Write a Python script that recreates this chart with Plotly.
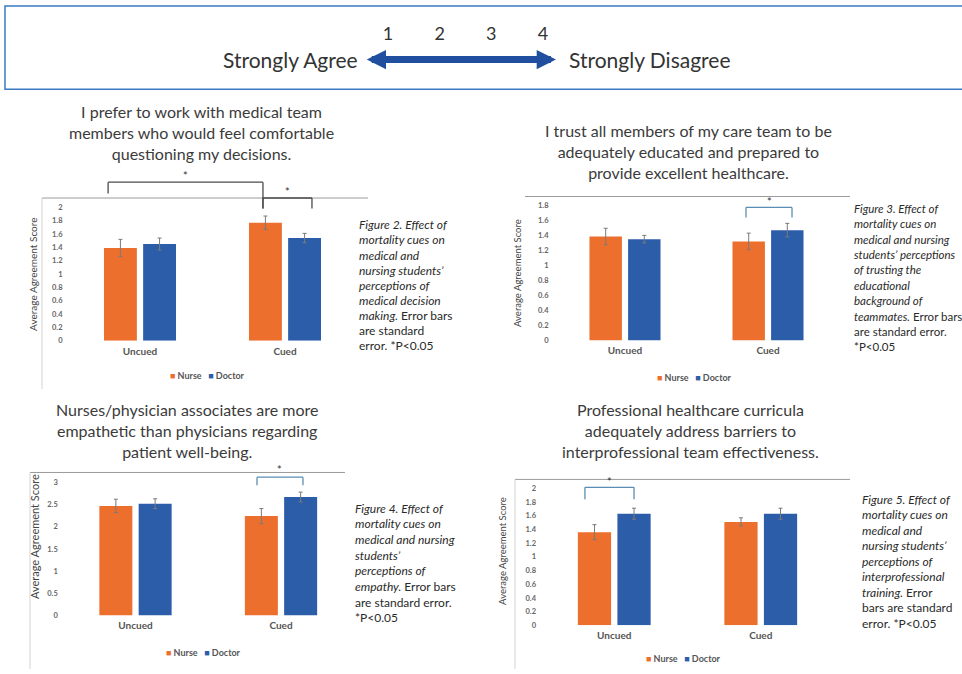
import plotly.graph_objects as go

W, H = 962, 674

# ---------------------------------------------------------------- data
groups = ["Uncued", "Cued"]
series = ["Nurse", "Doctor"]

# Figure 2 - comfortable being questioned
fig2_nurse = [1.39, 1.77]
fig2_doctor = [1.45, 1.54]
fig2_nurse_se = [0.13, 0.10]
fig2_doctor_se = [0.09, 0.07]
fig2_ticks = [0, 0.2, 0.4, 0.6, 0.8, 1, 1.2, 1.4, 1.6, 1.8, 2]

# Figure 3 - trust in teammates' education
fig3_nurse = [1.385, 1.32]
fig3_doctor = [1.35, 1.47]
fig3_nurse_se = [0.11, 0.11]
fig3_doctor_se = [0.05, 0.09]
fig3_ticks = [0, 0.2, 0.4, 0.6, 0.8, 1, 1.2, 1.4, 1.6, 1.8]

# Figure 4 - empathy
fig4_nurse = [2.47, 2.24]
fig4_doctor = [2.52, 2.67]
fig4_nurse_se = [0.15, 0.17]
fig4_doctor_se = [0.11, 0.11]
fig4_ticks = [0, 0.5, 1, 1.5, 2, 2.5, 3]

# Figure 5 - interprofessional training
fig5_nurse = [1.36, 1.51]
fig5_doctor = [1.63, 1.63]
fig5_nurse_se = [0.11, 0.06]
fig5_doctor_se = [0.08, 0.08]
fig5_ticks = [0, 0.2, 0.4, 0.6, 0.8, 1, 1.2, 1.4, 1.6, 1.8, 2]

scale_points = [1, 2, 3, 4]
scale_labels = ["1", "2", "3", "4"]

ORANGE = "#EC6F2D"
BLUE = "#2C5DA9"
FONT = "Lato"


def fx(px):
    return px / W


def fy(py):
    return 1 - py / H


def tick_text(v):
    return ("%g" % v)


panels = [
    dict(nurse=fig2_nurse, doctor=fig2_doctor, nse=fig2_nurse_se, dse=fig2_doctor_se,
         ticks=fig2_ticks, x_px=(67.5, 357.5), zero_py=343.3, ppu=67.2, top_py=168,
         topline=(42, 368, 199.5),
         brackets=[(-0.22, 0.848, 183.5, 195, 210, "#4a4a4a", 177),
                   (0.848, 1.186, 199.5, 210, 210, "#4a4a4a", 193)],
         border=(42, 199.5, 392),
         title="I prefer to work with medical team<br>members who would feel comfortable<br>questioning my decisions.",
         title_xy=(201, 133.5),
         ytitle_xy=(33, 277), ytitle_size=10,
         legend_xy=(207, 378),
         caption_x=357, caption_y=226.5, caption_dy=15.25, caption_size=12,
         caption=["<i>Figure 2. Effect of</i>", "<i>mortality cues on</i>", "<i>medical and</i>",
                  "<i>nursing students’</i>", "<i>perceptions of</i>", "<i>medical decision</i>",
                  "<i>making.</i> Error bars", "are standard", "error. *P&lt;0.05"]),
    dict(nurse=fig3_nurse, doctor=fig3_doctor, nse=fig3_nurse_se, dse=fig3_doctor_se,
         ticks=fig3_ticks, x_px=(553.5, 839.5), zero_py=343, ppu=75.6, top_py=190,
         topline=(525, 850, 198),
         brackets=[(0.846, 1.168, 209, 219, 219, "#5b8db3", 203)],
         border=None,
         title="I trust all members of my care team to be<br>adequately educated and prepared to<br>provide excellent healthcare.",
         title_xy=(688, 153),
         ytitle_xy=(518, 275), ytitle_size=9.5,
         legend_xy=(694, 380),
         caption_x=852, caption_y=210, caption_dy=15.5, caption_size=11.5,
         caption=["<i>Figure 3. Effect of</i>", "<i>mortality cues on</i>", "<i>medical and nursing</i>",
                  "<i>students’ perceptions</i>", "<i>of trusting the</i>", "<i>educational</i>",
                  "<i>background of</i>", "<i>teammates.</i> Error bars", "are standard error.",
                  "*P&lt;0.05"]),
    dict(nurse=fig4_nurse, doctor=fig4_doctor, nse=fig4_nurse_se, dse=fig4_doctor_se,
         ticks=fig4_ticks, x_px=(62.75, 353.75), zero_py=620, ppu=44.67, top_py=464,
         topline=(30, 345, 476),
         brackets=[(0.835, 1.151, 480.7, 489, 489, "#5b8db3", 473)],
         border=(30, 476, 674),
         title="Nurses/physician associates are more<br>empathetic than physicians regarding<br>patient well-being.",
         title_xy=(187, 434),
         ytitle_xy=(35, 541), ytitle_size=11,
         legend_xy=(203, 657),
         caption_x=353, caption_y=512, caption_dy=15.8, caption_size=12,
         caption=["<i>Figure 4. Effect of</i>", "<i>mortality cues on</i>", "<i>medical and nursing</i>",
                  "<i>students’</i>", "<i>perceptions of</i>", "<i>empathy.</i> Error bars",
                  "are standard error.", "*P&lt;0.05"]),
    dict(nurse=fig5_nurse, doctor=fig5_doctor, nse=fig5_nurse_se, dse=fig5_doctor_se,
         ticks=fig5_ticks, x_px=(541, 834), zero_py=630, ppu=69, top_py=474,
         topline=(515, 850, 483),
         brackets=[(-0.2, 0.135, 491, 503, 503, "#5b8db3", 485)],
         border=(515, 483, 674),
         title="Professional healthcare curricula<br>adequately address barriers to<br>interprofessional team effectiveness.",
         title_xy=(690, 434),
         ytitle_xy=(503, 555), ytitle_size=9.5,
         legend_xy=(683, 663),
         caption_x=860, caption_y=503, caption_dy=15.6, caption_size=12,
         caption=["<i>Figure 5. Effect of</i>", "<i>mortality cues on</i>", "<i>medical and</i>",
                  "<i>nursing students’</i>", "<i>perceptions of</i>", "<i>interprofessional</i>",
                  "<i>training.</i> Error", "bars are standard", "error. *P&lt;0.05"]),
]

fig = go.Figure()
shapes = []
annotations = []
layout_axes = {}

for i, p in enumerate(panels, start=1):
    xa = "x" if i == 1 else f"x{i}"
    ya = "y" if i == 1 else f"y{i}"
    xkey = "xaxis" if i == 1 else f"xaxis{i}"
    ykey = "yaxis" if i == 1 else f"yaxis{i}"

    for name, vals, errs, col in (("Nurse", p["nurse"], p["nse"], ORANGE),
                                  ("Doctor", p["doctor"], p["dse"], BLUE)):
        fig.add_trace(go.Bar(
            x=groups, y=vals, name=name, xaxis=xa, yaxis=ya,
            marker=dict(color=col, line=dict(width=0)),
            error_y=dict(type="data", array=errs, visible=True,
                         color="#7a7a7a", thickness=1, width=2),
            showlegend=False,
        ))

    y_top = (p["zero_py"] - p["top_py"]) / p["ppu"]
    layout_axes[xkey] = dict(
        domain=[fx(p["x_px"][0]), fx(p["x_px"][1])], anchor=ya,
        type="category", categoryarray=groups, range=[-0.5, 1.5],
        showgrid=False, zeroline=False, showline=False, ticks="",
        tickfont=dict(family=FONT, size=10, color="#555", weight=700),
        ticklabelstandoff=3,
    )
    layout_axes[ykey] = dict(
        domain=[fy(p["zero_py"]), fy(p["top_py"])], anchor=xa,
        range=[0, y_top], showgrid=False, zeroline=False, showline=False,
        ticks="", tickvals=p["ticks"], ticktext=[tick_text(v) for v in p["ticks"]],
        tickfont=dict(family=FONT, size=7.5, color="#666", weight=700),
        ticklabelstandoff=4,
    )

    # plot-area top rule
    x0, x1, ly = p["topline"]
    shapes.append(dict(type="line", xref="paper", yref="paper",
                       x0=fx(x0), x1=fx(x1), y0=fy(ly), y1=fy(ly),
                       line=dict(color="#9a9a9a", width=1)))
    # faint frame edge of the chart block
    if p["border"]:
        bx, by0, by1 = p["border"]
        shapes.append(dict(type="line", xref="paper", yref="paper",
                           x0=fx(bx), x1=fx(bx), y0=fy(by0), y1=fy(by1),
                           line=dict(color="#d4d4d4", width=1)))

    # significance brackets
    for bx0, bx1, hy, leg0, leg1, bcol, sy in p["brackets"]:
        path_line = dict(color=bcol, width=1.3)
        shapes.append(dict(type="line", xref=xa, yref="paper",
                           x0=bx0, x1=bx1, y0=fy(hy), y1=fy(hy), line=path_line))
        shapes.append(dict(type="line", xref=xa, yref="paper",
                           x0=bx0, x1=bx0, y0=fy(hy), y1=fy(leg0), line=path_line))
        shapes.append(dict(type="line", xref=xa, yref="paper",
                           x0=bx1, x1=bx1, y0=fy(hy), y1=fy(leg1), line=path_line))
        annotations.append(dict(xref=xa, yref="paper", x=(bx0 + bx1) / 2, y=fy(sy),
                                text="*", showarrow=False, yanchor="middle",
                                font=dict(family=FONT, size=11, color="#333")))

    # question title
    tx, ty = p["title_xy"]
    annotations.append(dict(xref="paper", yref="paper", x=fx(tx), y=fy(ty),
                            text=p["title"], showarrow=False, align="center",
                            xanchor="center", yanchor="middle",
                            font=dict(family=FONT, size=16, color="#3b3b3b")))

    # y axis title
    ax_, ay_ = p["ytitle_xy"]
    annotations.append(dict(xref="paper", yref="paper", x=fx(ax_), y=fy(ay_),
                            text="Average Agreement Score", textangle=-90,
                            showarrow=False, xanchor="center", yanchor="middle",
                            font=dict(family=FONT, size=p["ytitle_size"], color="#444")))

    # series key
    lx, ly2 = p["legend_xy"]
    key = (f"<span style='color:{ORANGE}'>■</span> {series[0]}   "
           f"<span style='color:{BLUE}'>■</span> {series[1]}")
    annotations.append(dict(xref="paper", yref="paper", x=fx(lx), y=fy(ly2),
                            text=key, showarrow=False, xanchor="center", yanchor="middle",
                            font=dict(family=FONT, size=9, color="#555", weight=700)))

    # caption
    for k, line in enumerate(p["caption"]):
        annotations.append(dict(xref="paper", yref="paper", x=fx(p["caption_x"]),
                                y=fy(p["caption_y"] + k * p["caption_dy"]),
                                text=line, showarrow=False, xanchor="left", yanchor="middle",
                                font=dict(family=FONT, size=p["caption_size"], color="#2a2a2a")))

# ---------------------------------------------------------------- agreement scale banner
px_per_unit = (543 - 388) / 3.0
sx0, sx1 = 150, 800
layout_axes["xaxis5"] = dict(
    domain=[fx(sx0), fx(sx1)], anchor="y5", side="top",
    range=[1 - (388 - sx0) / px_per_unit, 4 + (sx1 - 543) / px_per_unit],
    tickvals=scale_points, ticktext=scale_labels, ticks="",
    showgrid=False, zeroline=False, showline=False,
    tickfont=dict(family=FONT, size=18, color="#333"), ticklabelstandoff=0,
)
layout_axes["yaxis5"] = dict(domain=[fy(75), fy(45)], anchor="x5", range=[0, 1],
                             visible=False)
fig.add_trace(go.Scatter(x=[1, 4], y=[0.5, 0.5], xaxis="x5", yaxis="y5",
                         mode="markers", marker=dict(opacity=0), showlegend=False,
                         hoverinfo="skip"))

annotations.append(dict(xref="x5", yref="y5", axref="x5", ayref="y5",
                        x=4.25, y=0.5, ax=0.56, ay=0.5, text="", showarrow=True,
                        arrowhead=2, arrowside="end+start", arrowwidth=7, arrowsize=0.55,
                        arrowcolor="#1f4f9e"))
annotations.append(dict(xref="x5", yref="y5", x=0.46, y=0.5, text="Strongly Agree",
                        showarrow=False, xanchor="right", yanchor="middle",
                        font=dict(family=FONT, size=21, color="#333")))
annotations.append(dict(xref="x5", yref="y5", x=4.46, y=0.5, text="Strongly Disagree",
                        showarrow=False, xanchor="left", yanchor="middle",
                        font=dict(family=FONT, size=21, color="#333")))
shapes.append(dict(type="rect", xref="paper", yref="paper",
                   x0=fx(5), x1=fx(990), y0=fy(90), y1=fy(6),
                   line=dict(color="#3b78c4", width=1.5)))

fig.update_layout(
    width=W, height=H, margin=dict(l=0, r=0, t=0, b=0),
    paper_bgcolor="white", plot_bgcolor="white",
    barmode="group", bargap=0.46, bargroupgap=0.16,
    shapes=shapes, annotations=annotations, showlegend=False,
    **layout_axes,
)

fig.write_html("out.html")
